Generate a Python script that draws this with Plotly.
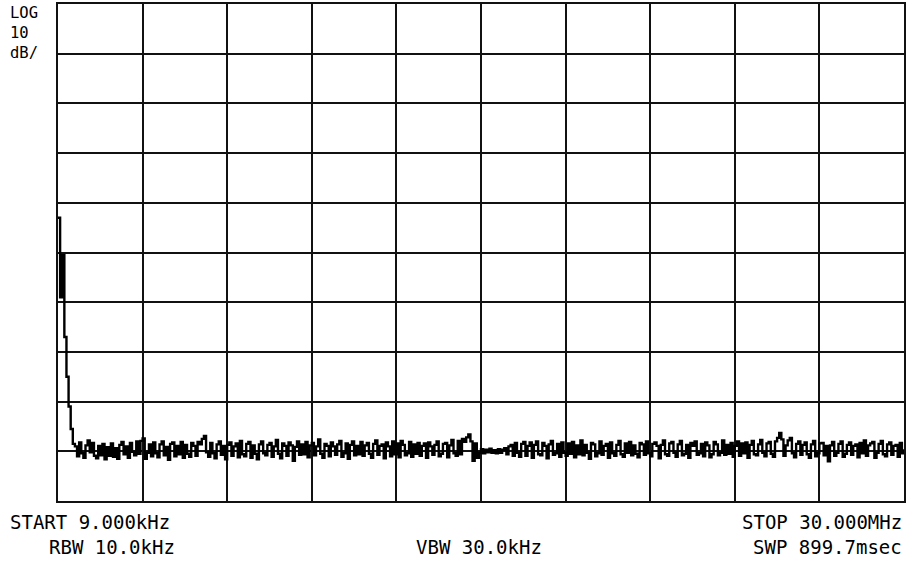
import numpy as np
import plotly.graph_objects as go

# sweep settings (spectrum analyzer screen)
start_mhz = 0.009
stop_mhz = 30.0
ref_level = 0
db_per_div = 10

# trace levels in dB, 401 sweep points
levels = [
    -43.0, -59.0, -50.5, -67.0, -75.0, -81.0, -85.5, -88.5, -89.0, -91.0, -88.2, -90.4, -91.3, -88.8, -87.8, -90.2,
    -88.3, -90.9, -91.4, -88.9, -90.8, -88.5, -91.6, -89.2, -90.9, -88.4, -91.1, -89.4, -91.5, -88.7, -88.1, -90.6,
    -89.0, -91.3, -88.3, -90.1, -90.8, -88.0, -90.5, -87.9, -87.4, -91.5, -90.3, -88.6, -91.0, -88.2, -90.4, -91.2,
    -88.6, -88.0, -90.8, -89.1, -91.7, -88.5, -88.2, -91.0, -88.9, -90.6, -88.1, -91.3, -88.7, -90.5, -91.1, -88.3,
    -88.9, -90.9, -88.1, -88.6, -87.5, -86.9, -90.2, -91.1, -88.3, -90.4, -91.4, -88.6, -88.0, -90.7, -88.9, -91.6,
    -88.7, -88.2, -90.9, -89.0, -88.4, -91.2, -87.9, -90.6, -91.0, -88.5, -88.1, -91.3, -88.8, -90.5, -91.6, -88.6,
    -88.0, -90.4, -90.8, -88.7, -88.3, -91.1, -89.0, -87.7, -90.5, -91.4, -88.4, -88.9, -90.9, -88.2, -88.8, -91.9,
    -89.1, -88.0, -90.7, -88.6, -90.6, -88.1, -91.2, -88.8, -88.3, -90.8, -89.0, -87.6, -90.5, -91.3, -88.5, -88.9,
    -91.0, -88.2, -89.0, -90.7, -88.6, -87.9, -91.1, -90.4, -88.4, -91.5, -88.7, -88.0, -90.8, -88.9, -90.6, -88.1,
    -90.9, -88.8, -88.3, -90.5, -91.3, -88.5, -87.8, -90.7, -88.9, -88.6, -91.4, -88.2, -89.0, -91.0, -88.0, -90.6,
    -88.4, -91.2, -87.9, -88.7, -90.8, -90.4, -88.1, -91.1, -88.6, -90.5, -88.3, -90.9, -88.9, -88.4, -91.3, -88.2,
    -89.0, -90.7, -88.7, -88.0, -91.0, -90.5, -88.5, -88.3, -91.2, -88.8, -87.7, -90.4, -90.9, -87.9, -90.6, -87.5,
    -88.1, -87.2, -86.6, -88.0, -91.9, -88.4, -91.3, -90.3, -89.6, -90.4, -89.7, -90.2, -89.5, -90.3, -89.8, -90.4,
    -89.6, -90.3, -89.7, -89.4, -90.6, -89.0, -88.7, -90.9, -88.3, -90.3, -91.1, -88.5, -88.1, -90.9, -88.9, -88.2,
    -91.3, -88.7, -88.0, -90.6, -90.8, -88.3, -88.9, -91.4, -88.6, -87.9, -90.7, -90.4, -88.5, -91.1, -88.2, -90.3,
    -90.9, -88.4, -90.5, -88.1, -91.2, -88.8, -90.6, -87.8, -90.8, -88.7, -90.3, -91.5, -88.3, -88.6, -91.0, -90.4,
    -88.0, -90.7, -88.9, -88.5, -91.3, -88.2, -90.4, -90.9, -88.7, -87.9, -90.6, -91.1, -88.4, -90.3, -88.1, -90.8,
    -88.8, -90.5, -91.2, -88.3, -88.6, -90.7, -88.0, -90.4, -91.0, -88.5, -88.2, -88.9, -91.4, -88.7, -87.8, -90.6,
    -90.9, -88.4, -88.1, -90.3, -91.1, -88.6, -87.9, -90.8, -90.5, -88.7, -91.3, -88.3, -88.9, -88.0, -90.7, -90.4,
    -88.5, -91.0, -88.2, -88.8, -91.2, -90.6, -88.1, -88.6, -90.8, -90.3, -87.8, -90.7, -88.7, -90.5, -88.3, -91.1,
    -88.9, -88.0, -90.9, -88.4, -90.4, -88.2, -91.3, -88.7, -87.9, -90.6, -90.8, -88.6, -87.7, -90.3, -91.0, -88.4,
    -88.1, -90.5, -91.1, -88.0, -87.3, -86.3, -87.6, -90.9, -88.8, -87.8, -87.3, -90.4, -91.2, -88.5, -88.0, -90.7,
    -88.7, -88.2, -90.6, -91.3, -88.6, -87.9, -91.0, -90.4, -88.4, -88.3, -90.8, -88.9, -92.0, -88.8, -88.1, -90.9,
    -90.3, -88.5, -88.0, -91.1, -90.5, -88.7, -88.2, -90.7, -88.9, -88.6, -91.2, -88.3, -90.4, -87.8, -90.9, -88.8,
    -88.4, -88.1, -91.3, -90.3, -88.5, -87.9, -90.6, -91.0, -88.6, -88.2, -90.7, -88.9, -88.7, -91.1, -88.3, -90.4,
    -89.6,
]

freqs = np.linspace(start_mhz, stop_mhz, len(levels))

FONT = "DejaVu Sans Mono"

fig = go.Figure()
fig.add_trace(go.Scatter(
    x=freqs,
    y=levels,
    mode='lines',
    line=dict(color='black', width=2.4, shape='hv'),
    hoverinfo='skip',
    showlegend=False
))

axis_style = dict(
    showticklabels=False,
    ticks='',
    showgrid=True,
    gridcolor='#111111',
    gridwidth=2,
    zeroline=False,
    showline=True,
    linecolor='#111111',
    linewidth=2,
    mirror=True,
    fixedrange=True,
)

fig.update_xaxes(range=[start_mhz, stop_mhz], tick0=start_mhz,
                 dtick=(stop_mhz - start_mhz) / 10, **axis_style)
fig.update_yaxes(range=[ref_level - 10 * db_per_div, ref_level], tick0=ref_level,
                 dtick=db_per_div, **axis_style)

# screen annotations, placed in pixels relative to the plot area
W, H = 907, 565
L, R, T, B = 58, 1, 4, 64
pw, ph = W - L - R, H - T - B


def px(x):
    return (x - L) / pw


def py(y):
    return (H - B - y) / ph


labels = [
    ("LOG<br>10<br>dB/", 9, 33, 'left', 15.5),
    ("START 9.000kHz", 9, 522, 'left', 19),
    ("RBW 10.0kHz", 176, 547, 'right', 19),
    ("VBW 30.0kHz", 480, 547, 'center', 19),
    ("STOP 30.000MHz", 905, 522, 'right', 19),
    ("SWP 899.7msec", 905, 547, 'right', 19),
]

for text, x, y, anchor, size in labels:
    fig.add_annotation(
        text=text, xref='paper', yref='paper',
        x=px(x), y=py(y), xanchor=anchor, yanchor='middle',
        align=anchor if anchor != 'center' else 'center',
        showarrow=False, borderpad=0,
        font=dict(family=FONT, size=size, color='black')
    )

fig.update_layout(
    width=W, height=H,
    margin=dict(l=L, r=R, t=T, b=B),
    paper_bgcolor='white',
    plot_bgcolor='white',
    showlegend=False,
)

fig.write_html("out.html", config={'displayModeBar': False},
               post_script="document.body.style.margin='0';")
